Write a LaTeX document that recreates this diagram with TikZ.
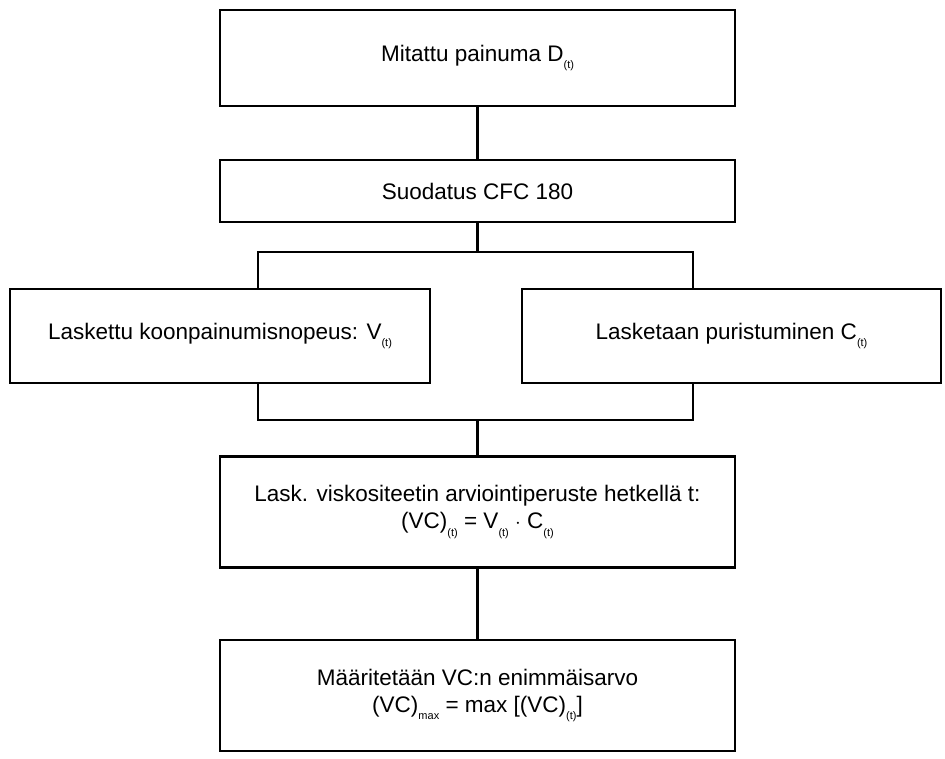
\documentclass[tikz,border=0pt]{standalone}
\usepackage{fontspec}
\setmainfont{Liberation Sans}
\usetikzlibrary{positioning,calc}

\newcommand{\lowsub}[1]{\raisebox{-0.6ex}{\fontsize{11}{11}\selectfont #1}}

\tikzset{
  stage/.style={draw, line width=2.6pt, fill=white, align=center,
    inner sep=0pt, font=\fontsize{22.5}{27}\selectfont},
  link/.style={line width=2.2pt}
}

\begin{document}
\begin{tikzpicture}[x=1pt, y=-1pt, line cap=rect, line join=miter]

\useasboundingbox (0,0) rectangle (945,759);

\node[stage, minimum width=515pt, minimum height=96pt] (painuma) at (477.5,58) {Mitattu painuma D\lowsub{(t)}};
\node[stage, minimum width=515pt, minimum height=62pt] (suodatus) at (477.5,191) {Suodatus CFC 180};
\node[stage, minimum width=420pt, minimum height=94pt] (nopeus) at (220,336) {Laskettu koonpainumisnopeus: V\lowsub{(t)}};
\node[stage, minimum width=419pt, minimum height=94pt] (puristus) at (731.5,336) {Lasketaan puristuminen C\lowsub{(t)}};
\node[stage, minimum width=515pt, minimum height=111pt] (peruste) at (477.5,512) {Lask. viskositeetin arviointiperuste hetkellä t:\\(VC)\lowsub{(t)} = V\lowsub{(t)} $\cdot$ C\lowsub{(t)}};
\node[stage, minimum width=515pt, minimum height=111pt] (enimmais) at (477.5,695.5) {Määritetään VC:n enimmäisarvo\\(VC)\lowsub{max} = max [(VC)\lowsub{(t)}]};

% haarautuminen
\coordinate (splitL) at (258,252);
\coordinate (splitR) at (693,252);
\coordinate (joinL) at (258,420);
\coordinate (joinR) at (693,420);

\draw[link] (painuma) -- (suodatus);
\draw[link] (suodatus) -- (suodatus.south |- splitL);
\draw[link] (splitL) -- (splitR);
\draw[link] (splitL) -- (splitL |- nopeus.north);
\draw[link] (splitR) -- (splitR |- puristus.north);
\draw[link] (joinL |- nopeus.south) -- (joinL) -- (joinR) -- (joinR |- puristus.south);
\draw[link] (peruste.north |- joinL) -- (peruste);
\draw[link] (peruste) -- (enimmais);

\end{tikzpicture}
\end{document}
